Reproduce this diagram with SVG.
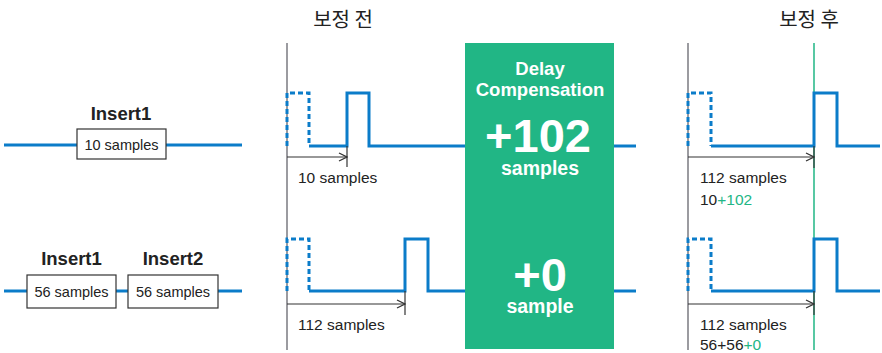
<svg xmlns="http://www.w3.org/2000/svg" width="882" height="353" viewBox="0 0 882 353">
<defs>
<style>
text{font-family:"Liberation Sans",Arial,sans-serif;fill:#222}
.kr{font-family:"Noto Sans CJK KR","Noto Sans",sans-serif;font-size:20px}
.lbl{font-size:18.5px;font-weight:bold;text-anchor:middle}
.box{fill:#fff;stroke:#333;stroke-width:1.2}
.bt{font-size:14.5px;text-anchor:middle}
.sig{fill:none;stroke:#0b7cc9;stroke-width:3}
.dash{fill:none;stroke:#0b7cc9;stroke-width:3;stroke-dasharray:5,3}
.axis{stroke:#7a7a80;stroke-width:1.5}
.gl{stroke:#21b685;stroke-width:1.5}
.arr{fill:none;stroke:#333;stroke-width:1.2}
.t{font-size:15.5px}
.g{fill:#21b685}
.w{fill:#fff;font-weight:bold;text-anchor:middle}
</style>
<marker id="ah" viewBox="0 0 10 10" refX="9" refY="5" markerWidth="10" markerHeight="10" markerUnits="userSpaceOnUse" orient="auto">
<path d="M1,1 L9,5 L1,9" fill="none" stroke="#333" stroke-width="1.3"/>
</marker>
</defs>
<rect width="882" height="353" fill="#fff"/>

<g id="headers">
<text class="kr" x="343" y="27" text-anchor="middle">보정 전</text>
<text class="kr" x="809" y="27" text-anchor="middle">보정 후</text>
</g>

<g id="connectors">
<line class="sig" x1="4" y1="145" x2="77" y2="145"/>
<line class="sig" x1="166" y1="145" x2="242" y2="145"/>
<line class="sig" x1="4" y1="291" x2="27" y2="291"/>
<line class="sig" x1="116" y1="291" x2="128" y2="291"/>
<line class="sig" x1="218" y1="291" x2="242" y2="291"/>
</g>

<g id="insert1-top">
<text class="lbl" x="121" y="120">Insert1</text>
<rect class="box" x="77" y="129" width="89" height="30"/>
<text class="bt" x="121.5" y="150">10 samples</text>
</g>
<g id="insert1-bottom">
<text class="lbl" x="71.5" y="265">Insert1</text>
<rect class="box" x="27" y="275" width="89" height="33"/>
<text class="bt" x="71.5" y="297">56 samples</text>
</g>
<g id="insert2-bottom">
<text class="lbl" x="173" y="265">Insert2</text>
<rect class="box" x="128" y="275" width="90" height="33"/>
<text class="bt" x="173" y="297">56 samples</text>
</g>

<g id="before">
<line class="axis" x1="287" y1="43" x2="287" y2="350"/>
<path class="dash" d="M287,146 V93 H309 V146"/>
<path class="sig" d="M309,146 H347 V93 H369 V146 H466"/>
<line class="arr" x1="287" y1="157" x2="347" y2="157" marker-end="url(#ah)"/>
<line class="arr" x1="347" y1="146" x2="347" y2="167"/>
<text class="t" x="298" y="183">10 samples</text>
<path class="dash" d="M287,291 V239 H309 V291"/>
<path class="sig" d="M309,291 H405 V239 H428 V291 H466"/>
<line class="arr" x1="287" y1="304" x2="405" y2="304" marker-end="url(#ah)"/>
<line class="arr" x1="405" y1="291" x2="405" y2="315"/>
<text class="t" x="298" y="330">112 samples</text>
</g>

<g id="delay-compensation">
<line class="sig" x1="612" y1="146" x2="636" y2="146"/>
<line class="sig" x1="612" y1="291" x2="636" y2="291"/>
<rect x="465" y="43" width="149" height="306" fill="#21b685"/>
<text class="w" x="540" y="75" font-size="18.5">Delay</text>
<text class="w" x="540" y="96" font-size="18.5">Compensation</text>
<text class="w" x="538" y="152" font-size="47">+102</text>
<text class="w" x="540" y="175" font-size="19.5">samples</text>
<text class="w" x="540" y="291" font-size="47">+0</text>
<text class="w" x="540" y="313" font-size="19.5">sample</text>
</g>

<g id="after">
<line class="axis" x1="688" y1="43" x2="688" y2="350"/>
<line class="gl" x1="814" y1="43" x2="814" y2="350"/>
<path class="dash" d="M688,146 V93 H711 V146"/>
<path class="sig" d="M711,146 H814 V93 H837 V146 H880"/>
<line class="arr" x1="688" y1="157" x2="814" y2="157" marker-end="url(#ah)"/>
<line class="arr" x1="814" y1="146" x2="814" y2="168"/>
<text class="t" x="700" y="183">112 samples</text>
<text class="t" x="700" y="205">10<tspan class="g">+102</tspan></text>
<path class="dash" d="M688,291 V239 H711 V291"/>
<path class="sig" d="M711,291 H814 V239 H837 V291 H880"/>
<line class="arr" x1="688" y1="304" x2="814" y2="304" marker-end="url(#ah)"/>
<line class="arr" x1="814" y1="291" x2="814" y2="315"/>
<text class="t" x="700" y="330">112 samples</text>
<text class="t" x="700" y="350">56+56<tspan class="g">+0</tspan></text>
</g>
</svg>
